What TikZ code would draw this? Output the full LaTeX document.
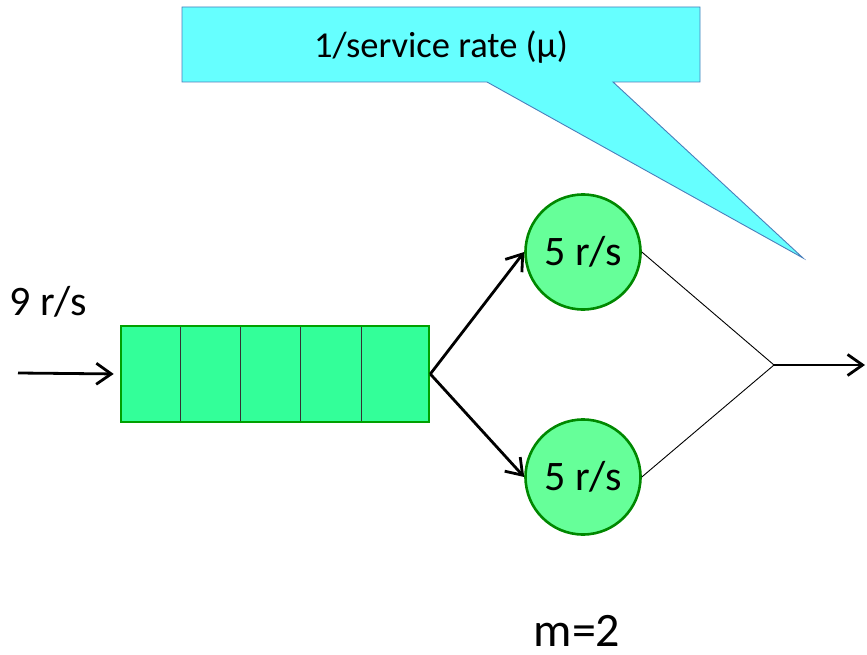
\documentclass[tikz,border=0pt]{standalone}
\usepackage{fontspec}
\setmainfont{Carlito}
\usetikzlibrary{arrows.meta,calc}
\definecolor{calloutfill}{HTML}{66FFFF}
\definecolor{calloutline}{HTML}{4A7EBB}
\definecolor{queuefill}{HTML}{33FF99}
\definecolor{serverfill}{HTML}{66FF99}
\definecolor{greenline}{HTML}{00A000}
\tikzset{
  label text/.style={font=\fontsize{42}{48}\selectfont, inner sep=0pt},
  queuebox/.style={draw=greenline, fill=queuefill, line width=2.6pt,
    minimum width=308pt, minimum height=96pt, inner sep=0pt},
  server/.style={circle, draw=greenline!85!black, fill=serverfill, line width=2.6pt,
    minimum size=115pt, inner sep=0pt, font=\fontsize{42}{48}\selectfont},
  flow/.style={line width=2.8pt, -{Straight Barb[length=15pt, width=21pt, line width=2.8pt]}},
  joinline/.style={line width=0.9pt},
}
\begin{document}
\begin{tikzpicture}[x=1pt, y=-1pt]
  \useasboundingbox (0,0) rectangle (867,655);

  % callout balloon pointing at the servers
  \draw[fill=calloutfill, draw=calloutline, line width=0.9pt, line join=miter]
    (182,7) -- (700,7) -- (700,82) -- (613,82) -- (803,258) -- (487,82) -- (182,82) -- cycle;
  \node[font=\fontsize{36.5}{42}\selectfont, inner sep=0pt, anchor=base] (callout) at (441,58) {1/service rate (μ)};

  % arrival rate and incoming arrow
  \node[label text, anchor=base] (arrival) at (48,315) {9 r/s};
  \coordinate (in) at (18,373);

  % waiting queue with five slots
  \node[queuebox] (queue) at (275,374) {};
  \foreach \x in {180,240,300,361}
    \draw[line width=1pt, black!80] (\x,327) -- (\x,421);

  % two servers
  \node[server] (s1) at (583,252) {5 r/s};
  \node[server] (s2) at (583,477) {5 r/s};

  % departure junction
  \coordinate (join) at (774,365);
  \coordinate (out) at (865,365);

  \draw[flow, shorten >=6pt] (in) -- (queue.west);
  \draw[flow] (queue.east) -- (s1.west);
  \draw[flow] (queue.east) -- (s2.west);
  \draw[joinline] (s1.east) -- (join);
  \draw[joinline] (s2.east) -- (join);
  \draw[flow] (join) -- (out);

  % number of servers
  \node[font=\fontsize{48}{54}\selectfont, inner sep=0pt, anchor=base] (servers) at (577,646) {m=2};
\end{tikzpicture}
\end{document}
